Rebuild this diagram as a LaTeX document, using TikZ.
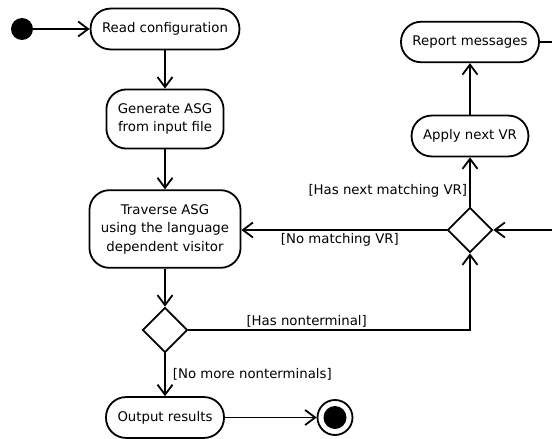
\documentclass[tikz,border=0pt]{standalone}
\usepackage{fontspec}
\setmainfont{DejaVu Sans}
\usetikzlibrary{shapes.geometric,arrows.meta}

\begin{document}
\begin{tikzpicture}[x=1pt,y=-1pt]
    \tikzstyle{etape}=[align=center, rectangle, rounded corners=20pt, draw, line width=1.8pt, inner xsep=11.5pt, inner ysep=14pt, font=\fontsize{13.3}{18.5}\selectfont]
    \tikzstyle{choix}=[diamond, draw, line width=1.8pt, minimum width=45pt, minimum height=45pt, inner sep=0pt]
    \tikzstyle{garde}=[font=\fontsize{13.3}{18.5}\selectfont, inner sep=2pt]
    \useasboundingbox (0,0) rectangle (552,439);
    \clip (0,0) rectangle (552,439);

    \node[circle, fill, inner sep=0pt, minimum size=22pt] (N00) at (22, 29) {};
    \node[etape] (N01) at (165, 29) {Read configuration};
    \node[etape] (N02) at (165, 119) {Generate ASG \\ from input file};
    \node[etape] (N03) at (165, 229) {Traverse ASG \\ using the language \\ dependent visitor};
    \node[choix] (N04) at (165, 330) {};
    \node[etape] (N05) at (165, 417.5) {Output results};
    \node[circle, draw, line width=1.8pt, inner sep=0pt, minimum size=35pt] (N06) at (335, 417.5) {};
    \node[circle, fill, inner sep=0pt, minimum size=23pt] (N06b) at (N06) {};
    \node[etape] (N07) at (470, 42) {Report messages};
    \node[etape] (N08) at (470, 136) {Apply next VR};
    \node[choix] (N09) at (470, 230) {};

    \tikzstyle{lien}=[-{Straight Barb[length=10pt,width=15pt]}, line width=1.8pt]
    \draw[lien] (N00) -- (N01);
    \draw[lien] (N01) -- (N02);
    \draw[lien] (N02) -- (N03);
    \draw[lien] (N03) -- (N04);
    \draw[lien] (N04) -- (N05) node[garde, pos=0.48, right, xshift=5pt] {[No more nonterminals]};
    \draw[lien] (N05) -- (N06);
    \draw[lien] (N04.east) -| (N09.south) node[garde, pos=0.21, above] {[Has nonterminal]};
    \draw[lien] (N09.west) -- (N09.west -| N03.east) node[garde, pos=0.52, below] {[No matching VR]};
    \draw[lien] (N09) -- (N08) node[garde, pos=0.32, left] {[Has next matching VR]};
    \draw[lien] (N08) -- (N07);
    \draw[lien] (N07.east) -- ++(100, 0) |- (N09.east);
\end{tikzpicture}
\end{document}
